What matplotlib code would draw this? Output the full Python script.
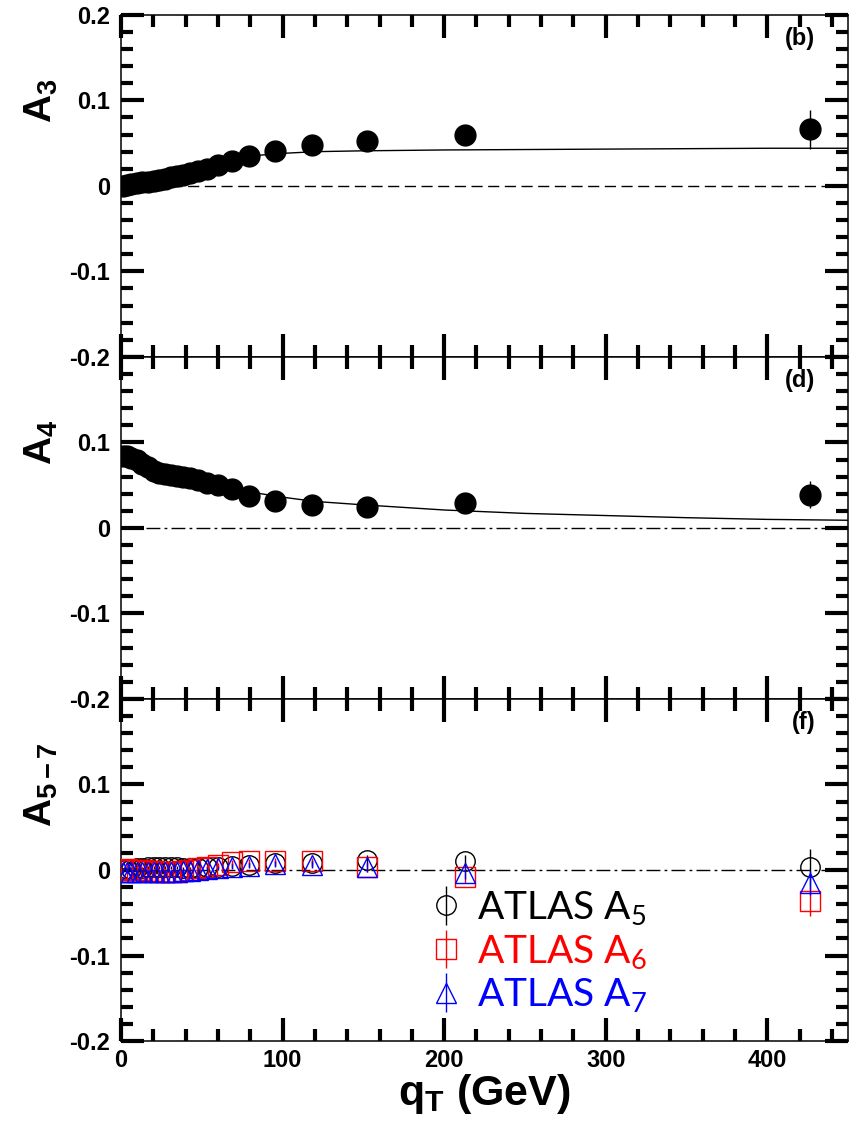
import matplotlib
matplotlib.use("Agg")
import matplotlib.pyplot as plt
import matplotlib.transforms as mtransforms
from matplotlib.ticker import MultipleLocator, FuncFormatter

plt.rcParams["font.family"] = ["Liberation Sans", "DejaVu Sans"]
plt.rcParams["font.weight"] = "bold"
plt.rcParams["mathtext.fontset"] = "custom"
plt.rcParams["mathtext.rm"] = "Lato:regular"
plt.rcParams["mathtext.it"] = "Lato:regular"
plt.rcParams["mathtext.bf"] = "Liberation Sans:bold"

# ATLAS 8 TeV bin centres in qT (GeV)
qt = [1.25, 3.75, 6.5, 9.7, 13.15, 16.7, 20.25, 23.75, 27.25, 30.8, 34.5, 38.4,
      42.65, 47.55, 53.3, 60.15, 68.65, 79.4, 95.2, 118.5, 152.5, 213, 426.5]

a3 = [0.000, 0.001, 0.002, 0.003, 0.004, 0.005, 0.006, 0.007, 0.008, 0.010, 0.011, 0.013,
      0.015, 0.017, 0.020, 0.024, 0.029, 0.035, 0.041, 0.048, 0.053, 0.059, 0.066]
a3_err = [0.002, 0.002, 0.002, 0.002, 0.002, 0.002, 0.002, 0.002, 0.002, 0.002, 0.002, 0.002,
          0.002, 0.002, 0.002, 0.002, 0.003, 0.003, 0.003, 0.004, 0.005, 0.007, 0.023]

a4 = [0.084, 0.084, 0.082, 0.079, 0.075, 0.071, 0.067, 0.064, 0.063, 0.062, 0.061, 0.060,
      0.058, 0.056, 0.053, 0.050, 0.045, 0.037, 0.031, 0.027, 0.025, 0.029, 0.039]
a4_err = [0.002, 0.002, 0.002, 0.002, 0.002, 0.002, 0.002, 0.002, 0.002, 0.002, 0.002, 0.002,
          0.002, 0.002, 0.002, 0.002, 0.003, 0.003, 0.003, 0.004, 0.005, 0.007, 0.016]

a5 = [0.000, 0.001, 0.001, 0.002, 0.002, 0.003, 0.003, 0.003, 0.003, 0.003, 0.003, 0.002,
      0.002, 0.002, 0.003, 0.004, 0.005, 0.006, 0.008, 0.008, 0.012, 0.011, 0.004]
a5_err = [0.002, 0.002, 0.002, 0.002, 0.002, 0.002, 0.002, 0.002, 0.002, 0.002, 0.002, 0.002,
          0.002, 0.002, 0.002, 0.002, 0.003, 0.003, 0.003, 0.004, 0.005, 0.007, 0.021]

a6 = [0.000, 0.001, 0.000, 0.000, 0.000, -0.001, -0.001, -0.002, -0.002, -0.002, -0.002, -0.001,
      0.000, 0.002, 0.004, 0.006, 0.009, 0.010, 0.011, 0.010, 0.003, -0.008, -0.036]
a6_err = [0.002, 0.002, 0.002, 0.002, 0.002, 0.002, 0.002, 0.002, 0.002, 0.002, 0.002, 0.002,
          0.002, 0.002, 0.002, 0.002, 0.003, 0.003, 0.003, 0.004, 0.005, 0.007, 0.018]

a7 = [-0.002, -0.002, -0.002, -0.002, -0.002, -0.002, -0.002, -0.002, -0.002, -0.002, -0.002, -0.001,
      -0.001, 0.000, 0.001, 0.002, 0.004, 0.005, 0.007, 0.006, 0.003, -0.004, -0.015]
a7_err = [0.002, 0.002, 0.002, 0.002, 0.002, 0.002, 0.002, 0.002, 0.002, 0.002, 0.002, 0.002,
          0.002, 0.002, 0.002, 0.002, 0.003, 0.003, 0.003, 0.004, 0.005, 0.007, 0.014]

# theory curves
th_qt = [0, 5, 10, 20, 30, 40, 50, 60, 70, 80, 100, 120, 150, 200, 250, 300, 350, 400, 450]
th_a3 = [0.000, 0.002, 0.004, 0.008, 0.012, 0.016, 0.021, 0.026, 0.031, 0.035, 0.038, 0.040,
         0.041, 0.042, 0.0425, 0.043, 0.0435, 0.044, 0.044]
th_a4 = [0.086, 0.083, 0.078, 0.069, 0.064, 0.059, 0.055, 0.051, 0.047, 0.042, 0.036, 0.031,
         0.027, 0.021, 0.017, 0.0145, 0.012, 0.010, 0.009]

fig, axes = plt.subplots(3, 1, sharex=True, figsize=(8.61, 11.42), dpi=100)
fig.subplots_adjust(left=0.1405, right=0.985, top=0.987, bottom=0.0884, hspace=0)

ylabels = [r"$\mathbf{A_3}$", r"$\mathbf{A_4}$", r"$\mathbf{A_{5-7}}$"]
tags = ["(b)", "(d)", "(f)"]

for i, ax in enumerate(axes):
    ax.set_xlim(0, 450)
    ax.set_ylim(-0.2, 0.2)
    ax.xaxis.set_major_locator(MultipleLocator(100))
    ax.xaxis.set_minor_locator(MultipleLocator(20))
    ax.yaxis.set_major_locator(MultipleLocator(0.1))
    ax.yaxis.set_minor_locator(MultipleLocator(0.02))
    ax.tick_params(which="both", direction="in", top=True, right=True, width=3)
    ax.tick_params(which="major", length=16.5)
    ax.tick_params(which="minor", length=8.5)
    ax.tick_params(axis="y", labelsize=17, pad=8)
    ax.tick_params(axis="x", labelsize=17, pad=6)
    for sp in ax.spines.values():
        sp.set_linewidth(1.1)

    top = i == 0
    ax.yaxis.set_major_formatter(FuncFormatter(
        lambda v, p, top=top: "" if (v > 0.15 and not top) else ("0" if abs(v) < 1e-9 else f"{v:.1f}")))

    ls = (0, (8, 4)) if i == 0 else (0, (10, 3, 2, 3))
    ax.axhline(0, color="black", lw=1, ls=ls, zorder=1)

    trans = mtransforms.blended_transform_factory(ax.transAxes, ax.transData)
    ax.text(-0.11, 0.1, ylabels[i], transform=trans, rotation=90,
            ha="center", va="center", fontsize=28)
    ax.text(0.955, 0.965, tags[i], transform=ax.transAxes, ha="right", va="top",
            fontsize=17, fontweight="bold")

# A3
axes[0].plot(th_qt, th_a3, color="black", lw=1, zorder=2)
axes[0].errorbar(qt, a3, yerr=a3_err, fmt="o", color="black", ms=15, elinewidth=1, zorder=3)

# A4
axes[1].plot(th_qt, th_a4, color="black", lw=1, zorder=2)
axes[1].errorbar(qt, a4, yerr=a4_err, fmt="o", color="black", ms=15, elinewidth=1, zorder=3)

# A5-7
ax = axes[2]
h5 = ax.errorbar(qt, a5, yerr=a5_err, fmt="o", mfc="none", mec="black", color="black",
                 ms=14, mew=1, elinewidth=1, zorder=3)
h6 = ax.errorbar(qt, a6, yerr=a6_err, fmt="s", mfc="none", mec="red", color="red",
                 ms=14, mew=1, elinewidth=1, zorder=4)
h7 = ax.errorbar(qt, a7, yerr=a7_err, fmt="^", mfc="none", mec="blue", color="blue",
                 ms=14, mew=1, elinewidth=1, zorder=5)
ax.legend([h5, h6, h7], [r"ATLAS A$_5$", r"ATLAS A$_6$", r"ATLAS A$_7$"],
          loc="upper left", bbox_to_anchor=(0.425, 0.445), frameon=False,
          borderpad=0, borderaxespad=0, handlelength=0.8, handletextpad=0.4,
          labelspacing=0.15, numpoints=1,
          prop={"family": "Lato", "weight": "normal", "size": 28},
          labelcolor=["black", "red", "blue"])

axes[2].set_xlabel(r"$\mathbf{q_T}$ (GeV)", fontsize=31, fontweight="bold", labelpad=0)

fig.savefig("out.png", dpi=100)
